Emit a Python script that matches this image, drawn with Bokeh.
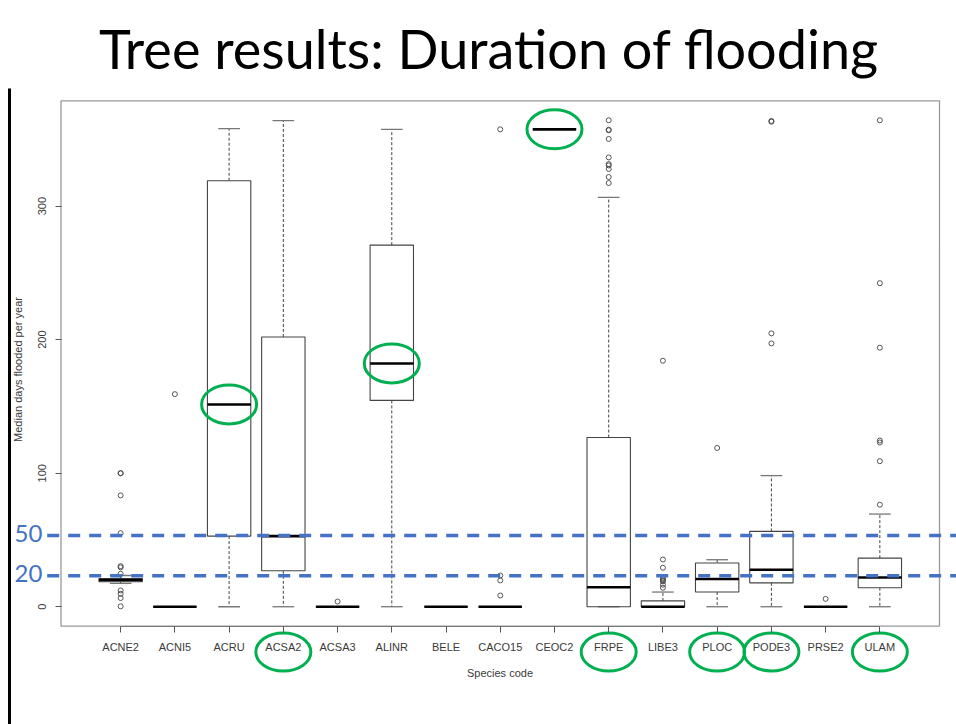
from bokeh.plotting import figure
from bokeh.models import FixedTicker, Range1d
from bokeh.core.properties import value
from bokeh.embed import file_html
from bokeh.resources import INLINE

# ---------------- data ----------------
species = ["ACNE2", "ACNI5", "ACRU", "ACSA2", "ACSA3", "ALINR", "BELE", "CACO15",
           "CEOC2", "FRPE", "LIBE3", "PLOC", "PODE3", "PRSE2", "ULAM"]
q1 = [18.7, 0, 52.9, 26.9, 0, 154.5, 0, 0, 357.5, 0, 0, 11.0, 17.9, 0, 14.2]
median = [20.0, 0, 151.5, 52.9, 0, 182.2, 0, 0, 357.5, 14.6, 0, 20.8, 27.7, 0, 21.9]
q3 = [21.2, 0, 319.0, 202.0, 0, 270.8, 0, 0, 357.5, 126.7, 4.4, 32.8, 56.4, 0, 36.4]
whisker_low = [17.5, 0, 0, 0, 0, 0, 0, 0, 357.5, 0, 0, 0, 0, 0, 0]
whisker_high = [23.4, 0, 358.0, 364.0, 0, 357.5, 0, 0, 357.5, 306.5, 11.0, 35.2, 98.2, 0, 69.4]

outlier_species = (["ACNE2"] * 11 + ["ACNI5"] + ["ACSA3"] + ["CACO15"] * 4 + ["FRPE"] * 10
                   + ["LIBE3"] * 9 + ["PLOC"] + ["PODE3"] * 4 + ["PRSE2"] + ["ULAM"] * 7)
outlier_values = ([100, 100, 83.4, 55.1, 30.4, 29.5, 24.7, 12.2, 9.7, 6.5, 0.3]
                  + [159.2]
                  + [3.9]
                  + [357.5, 23.4, 19.7, 8.4]
                  + [364.3, 357.2, 356.8, 350.3, 336.5, 331.5, 330.5, 327.8, 321.8, 317.3]
                  + [184.2, 35.4, 29.2, 21.5, 20.5, 19.5, 19.0, 16.5, 14.2]
                  + [118.9]
                  + [363.8, 363.2, 204.7, 197.2]
                  + [5.9]
                  + [364.3, 242.3, 194.0, 124.5, 123.0, 109.0, 76.4])

y_ticks = [0, 100, 200, 300]
threshold_labels = ["50", "20"]
threshold_drawn_at = [53.3, 23.3]          # where the dashed lines sit in the picture
highlight_medians = ["ACRU", "ALINR", "CEOC2"]
highlight_labels = ["ACSA2", "FRPE", "PLOC", "PODE3", "ULAM"]

title_text = "Tree results: Duration of flooding"
y_label = "Median days flooded per year"
x_label = "Species code"

# ---------------- layout constants (page pixels) ----------------
W, H, OFF = 956, 724, 0
FL, FR, FT, FB = 60.5, 939.0, 100.3, 625.7   # R plot region on the page

n = len(species)
pos = list(range(1, n + 1))
x_lo, x_hi = 0.5 - 0.04 * n, n + 0.5 + 0.04 * n
ymax = max(max(whisker_high), max(outlier_values))
y_lo, y_hi = -0.04 * ymax, 1.04 * ymax
sx = (FR - FL) / (x_hi - x_lo)
sy = (FB - FT) / (y_hi - y_lo)


def X(px):
    return x_lo + (px - FL) / sx


def Y(py):
    return y_lo + (FB - py) / sy


def PY(v):
    return FB - (v - y_lo) * sy


p = figure(width=W, height=H, x_range=Range1d(X(OFF), X(OFF + W)),
           y_range=Range1d(Y(OFF + H), Y(OFF)), output_backend="svg",
           toolbar_location=None, min_border=0, title=None)
p.outline_line_color = None
p.grid.visible = False
p.background_fill_color = "white"
p.border_fill_color = "white"

AX_FONT = "Liberation Sans"
TXT = "#3a3a3a"

# x axis (at the bottom of the R frame)
xa = p.xaxis[0]
xa.fixed_location = y_lo
xa.ticker = FixedTicker(ticks=pos)
xa.major_label_overrides = {i: s for i, s in zip(pos, species)}
xa.bounds = (1, n)
xa.axis_line_color = "#777777"
xa.major_tick_line_color = "#555555"
xa.major_tick_out = 6
xa.major_tick_in = 0
xa.minor_tick_line_color = None
xa.major_label_standoff = 9
xa.major_label_text_font = AX_FONT
xa.major_label_text_font_size = "11px"
xa.major_label_text_color = TXT
xa.axis_label = x_label
xa.axis_label_text_font = AX_FONT
xa.axis_label_text_font_size = "11px"
xa.axis_label_text_font_style = "normal"
xa.axis_label_text_color = TXT
xa.axis_label_standoff = 10

# y axis (at the left of the R frame)
ya = p.yaxis[0]
ya.fixed_location = x_lo
ya.ticker = FixedTicker(ticks=y_ticks)
ya.bounds = (Y(369) * 2 - y_hi, y_hi)
ya.axis_line_color = None
ya.major_tick_line_color = "#555555"
ya.major_tick_out = 6
ya.major_tick_in = 0
ya.minor_tick_line_color = None
ya.major_label_orientation = "vertical"
ya.major_label_standoff = 9
ya.major_label_text_font = AX_FONT
ya.major_label_text_font_size = "11px"
ya.major_label_text_color = TXT
ya.axis_label = y_label
ya.axis_label_text_font = AX_FONT
ya.axis_label_text_font_size = "11px"
ya.axis_label_text_font_style = "normal"
ya.axis_label_text_color = TXT
ya.axis_label_standoff = 12

# R plot frame
p.quad(left=[x_lo], right=[x_hi], bottom=[y_lo], top=[y_hi],
       fill_color=None, line_color="#999999", line_width=1.3)

# whiskers
BW = 0.8
p.segment(x0=pos, x1=pos, y0=q3, y1=whisker_high, line_color="#444444",
          line_width=1, line_dash="3 2")
p.segment(x0=pos, x1=pos, y0=q1, y1=whisker_low, line_color="#444444",
          line_width=1, line_dash="3 2")
# staples
cap_l = [x - BW / 4 for x in pos]
cap_r = [x + BW / 4 for x in pos]
p.segment(x0=cap_l, x1=cap_r, y0=whisker_high, y1=whisker_high, line_color="#777777", line_width=1.3)
p.segment(x0=cap_l, x1=cap_r, y0=whisker_low, y1=whisker_low, line_color="#777777", line_width=1.3)
# boxes
p.vbar(x=pos, width=BW, bottom=q1, top=q3, fill_color=None, line_color="#444444", line_width=1.1)
# medians
p.segment(x0=[x - BW / 2 for x in pos], x1=[x + BW / 2 for x in pos], y0=median, y1=median,
          line_color="black", line_width=2.6)
# outliers
ox = [pos[species.index(s)] for s in outlier_species]
p.scatter(x=ox, y=outlier_values, marker="circle", size=5, fill_color=None,
          line_color="#444444", line_width=0.9)

# blue dashed threshold lines (extend past the frame)
for lab, v in zip(threshold_labels, threshold_drawn_at):
    p.segment(x0=[X(46.7)], x1=[X(OFF + W + 20)], y0=[v], y1=[v],
              line_color="#4472C4", line_width=3.5, line_dash="12 9")
p.text(x=[X(28)] * 2, y=[Y(PY(v) - 2.5) for v in threshold_drawn_at], text=threshold_labels,
       text_align="center", text_baseline="middle", text_font=value("Lato"),
       text_font_size="24px", text_color="#4472C4")

# green highlight ellipses
hm_idx = [species.index(s) for s in highlight_medians]
p.ellipse(x=[pos[i] for i in hm_idx], y=[median[i] for i in hm_idx], width=55, height=39,
          width_units="screen", height_units="screen", fill_color=None,
          line_color="#00B050", line_width=3)
hl_idx = [species.index(s) for s in highlight_labels]
p.ellipse(x=[pos[i] for i in hl_idx], y=[Y(651.5)] * len(hl_idx), width=55, height=38,
          width_units="screen", height_units="screen", fill_color=None,
          line_color="#00B050", line_width=3)

# slide border piece at the left
p.segment(x0=[X(9)], x1=[X(9)], y0=[Y(88)], y1=[Y(740)], line_color="black", line_width=3)

# slide title
p.text(x=[X(488.5)], y=[Y(48)], text=[title_text], text_align="center",
       text_baseline="middle", text_font=value("Lato"), text_font_size="54px",
       text_color="black")

open("out.html", "w").write(file_html(p, INLINE))
